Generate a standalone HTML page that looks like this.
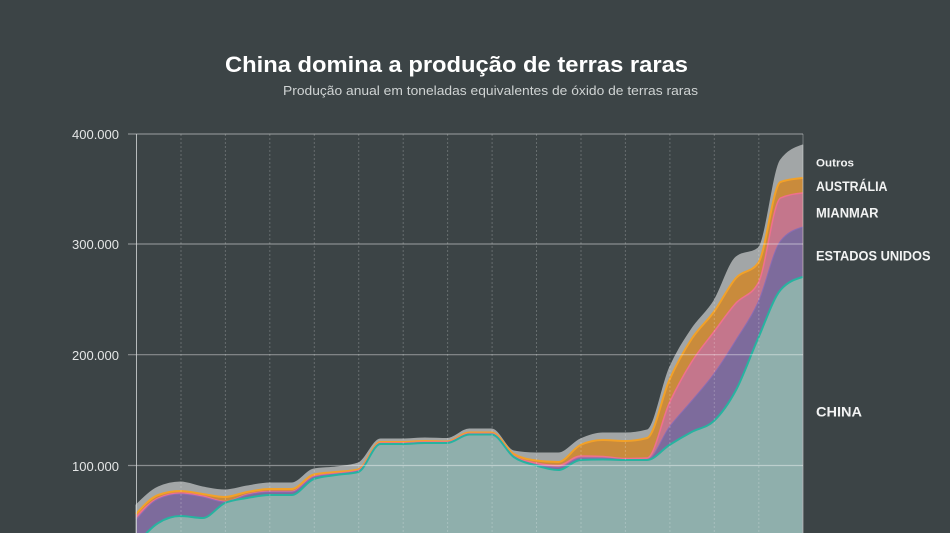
<!DOCTYPE html>
<html>
<head>
<meta charset="utf-8">
<style>
  html,body{margin:0;padding:0;background:#3c4446;}
  svg{display:block;}
  text{font-family:"Liberation Sans",sans-serif;}
</style>
</head>
<body>
<svg width="950" height="533" viewBox="0 0 950 533" xmlns="http://www.w3.org/2000/svg">
  <rect x="0" y="0" width="950" height="533" fill="#3c4446"/>

  <!-- Title -->
  <text x="225" y="72" font-size="22" font-weight="bold" fill="#ffffff" textLength="463" lengthAdjust="spacingAndGlyphs">China domina a produção de terras raras</text>
  <text x="283" y="95" font-size="13" fill="#cfd3d3" textLength="415" lengthAdjust="spacingAndGlyphs">Produção anual em toneladas equivalentes de óxido de terras raras</text>

  <!-- Y axis labels -->
  <g font-size="13" fill="#e4e6e6" text-anchor="end">
    <text x="119" y="139">400.000</text>
    <text x="119" y="249">300.000</text>
    <text x="119" y="360">200.000</text>
    <text x="119" y="471">100.000</text>
  </g>

  <!-- Areas (drawn top to bottom, overlapping) -->
  <path id="aG" fill="#a2a6a7" stroke="#a2a6a7" stroke-width="1" stroke-linejoin="round" d="M136.0,505 L158.2,487 L180.4,482 L202.7,487 L224.9,490 L247.1,486 L269.3,483 L291.6,483 L313.8,469 L336.0,467 L358.2,463 L380.5,439 L402.7,439 L424.9,438 L447.1,438.5 L469.3,429 L491.6,429 L513.8,451 L536.0,453 L558.2,453 L580.5,439 L602.7,433 L624.9,433 L647.1,430 L669.4,368 L691.6,329 L713.8,301 L736.0,257 L758.3,248 L780.5,160 L802.7,145 L802.7,533 L136,533 Z"/>
  <path id="aA" fill="#c98b3c" d="M136.0,514 L158.2,495 L180.4,491 L202.7,494 L224.9,497 L247.1,492 L269.3,489 L291.6,489 L313.8,474.5 L336.0,472 L358.2,469.5 L380.5,442 L402.7,442 L424.9,441 L447.1,441.5 L469.3,432.5 L491.6,432.5 L513.8,454 L536.0,460.5 L558.2,462 L580.5,445 L602.7,440 L624.9,441 L647.1,438 L669.4,380 L691.6,339 L713.8,312 L736.0,278 L758.3,263 L780.5,182 L802.7,178 L802.7,533 L136,533 Z"/>
  <path id="aM" fill="#c4768c" d="M136.0,517 L158.2,498 L180.4,493 L202.7,496 L224.9,501.5 L247.1,494.5 L269.3,491.5 L291.6,491.5 L313.8,476.5 L336.0,473.5 L358.2,470.5 L380.5,443 L402.7,443 L424.9,442 L447.1,442 L469.3,433.5 L491.6,433.5 L513.8,456 L536.0,463 L558.2,465.5 L580.5,456 L602.7,456.5 L624.9,458.5 L647.1,458 L669.4,403 L691.6,362 L713.8,332 L736.0,303 L758.3,283 L780.5,198 L802.7,193 L802.7,533 L136,533 Z"/>
  <path id="aP" fill="#7d6b9c" d="M136.0,520 L158.2,499 L180.4,494 L202.7,497 L224.9,502 L247.1,495 L269.3,492 L291.6,492 L313.8,477 L336.0,474 L358.2,471 L380.5,443.5 L402.7,443.5 L424.9,442.5 L447.1,442.5 L469.3,434 L491.6,434 L513.8,456.5 L536.0,464.5 L558.2,467.5 L580.5,458 L602.7,458 L624.9,459.5 L647.1,459.5 L669.4,427 L691.6,401 L713.8,374 L736.0,340 L758.3,302 L780.5,241 L802.7,227 L802.7,533 L136,533 Z"/>
  <path id="aC" fill="#8fafac" d="M136.0,545 L158.2,523 L180.4,516 L202.7,518 L224.9,503 L247.1,498 L269.3,495 L291.6,495 L313.8,479 L336.0,475 L358.2,472 L380.5,444 L402.7,444 L424.9,443 L447.1,443 L469.3,434.5 L491.6,434.5 L513.8,457 L536.0,465.5 L558.2,470 L580.5,460 L602.7,459.5 L624.9,460 L647.1,460 L669.4,445 L691.6,432 L713.8,421 L736.0,390 L758.3,338 L780.5,290 L802.7,277 L802.7,533 L136,533 Z"/>

  <!-- Lines -->
  <path id="lA" fill="none" stroke="#f2a128" stroke-width="2" stroke-linejoin="round" d="M136.0,514 L158.2,495 L180.4,491 L202.7,494 L224.9,497 L247.1,492 L269.3,489 L291.6,489 L313.8,474.5 L336.0,472 L358.2,469.5 L380.5,442 L402.7,442 L424.9,441 L447.1,441.5 L469.3,432.5 L491.6,432.5 L513.8,454 L536.0,460.5 L558.2,462 L580.5,445 L602.7,440 L624.9,441 L647.1,438 L669.4,380 L691.6,339 L713.8,312 L736.0,278 L758.3,263 L780.5,182 L802.7,178"/>
  <path id="lM" fill="none" stroke="#f0708e" stroke-width="1.5" stroke-linejoin="round" d="M136.0,517 L158.2,498 L180.4,493 L202.7,496 L224.9,501.5 L247.1,494.5 L269.3,491.5 L291.6,491.5 L313.8,476.5 L336.0,473.5 L358.2,470.5 L380.5,443 L402.7,443 L424.9,442 L447.1,442 L469.3,433.5 L491.6,433.5 L513.8,456 L536.0,463 L558.2,465.5 L580.5,456 L602.7,456.5 L624.9,458.5 L647.1,458 L669.4,403 L691.6,362 L713.8,332 L736.0,303 L758.3,283 L780.5,198 L802.7,193"/>
  <path id="lP" fill="none" stroke="#8a6cb4" stroke-width="1" stroke-linejoin="round" d="M136.0,520 L158.2,499 L180.4,494 L202.7,497 L224.9,502 L247.1,495 L269.3,492 L291.6,492 L313.8,477 L336.0,474 L358.2,471 L380.5,443.5 L402.7,443.5 L424.9,442.5 L447.1,442.5 L469.3,434 L491.6,434 L513.8,456.5 L536.0,464.5 L558.2,467.5 L580.5,458 L602.7,458 L624.9,459.5 L647.1,459.5 L669.4,427 L691.6,401 L713.8,374 L736.0,340 L758.3,302 L780.5,241 L802.7,227"/>
  <path id="lC" fill="none" stroke="#27b3a0" stroke-width="2" stroke-linejoin="round" d="M136.0,545 L158.2,523 L180.4,516 L202.7,518 L224.9,503 L247.1,498 L269.3,495 L291.6,495 L313.8,479 L336.0,475 L358.2,472 L380.5,444 L402.7,444 L424.9,443 L447.1,443 L469.3,434.5 L491.6,434.5 L513.8,457 L536.0,465.5 L558.2,470 L580.5,460 L602.7,459.5 L624.9,460 L647.1,460 L669.4,445 L691.6,432 L713.8,421 L736.0,390 L758.3,338 L780.5,290 L802.7,277"/>

  <!-- Vertical dotted gridlines -->
  <g stroke="#ffffff" stroke-opacity="0.22" stroke-width="1" stroke-dasharray="2,2">
    <line x1="181" y1="134" x2="181" y2="533"/>
    <line x1="225.4" y1="134" x2="225.4" y2="533"/>
    <line x1="269.8" y1="134" x2="269.8" y2="533"/>
    <line x1="314.3" y1="134" x2="314.3" y2="533"/>
    <line x1="358.7" y1="134" x2="358.7" y2="533"/>
    <line x1="403.2" y1="134" x2="403.2" y2="533"/>
    <line x1="447.6" y1="134" x2="447.6" y2="533"/>
    <line x1="492.1" y1="134" x2="492.1" y2="533"/>
    <line x1="536.5" y1="134" x2="536.5" y2="533"/>
    <line x1="581" y1="134" x2="581" y2="533"/>
    <line x1="625.4" y1="134" x2="625.4" y2="533"/>
    <line x1="669.9" y1="134" x2="669.9" y2="533"/>
    <line x1="714.3" y1="134" x2="714.3" y2="533"/>
    <line x1="758.8" y1="134" x2="758.8" y2="533"/>
  </g>
  <line x1="803" y1="134" x2="803" y2="533" stroke="#ffffff" stroke-opacity="0.3" stroke-width="1"/>

  <!-- Horizontal gridlines -->
  <g stroke="#ffffff" stroke-opacity="0.4" stroke-width="1.2">
    <line x1="128" y1="134" x2="803" y2="134"/>
    <line x1="128" y1="244" x2="803" y2="244"/>
    <line x1="128" y1="354.7" x2="803" y2="354.7"/>
    <line x1="128" y1="465.5" x2="803" y2="465.5"/>
  </g>
  <!-- Y axis -->
  <line x1="136.5" y1="134" x2="136.5" y2="533" stroke="#d6d9d9" stroke-opacity="0.8" stroke-width="1"/>

  <!-- Right labels -->
  <g font-weight="bold" fill="#f2f3f3">
    <text x="816" y="166.7" font-size="11" textLength="38" lengthAdjust="spacingAndGlyphs">Outros</text>
    <text x="816" y="191" font-size="13.5" textLength="71.5" lengthAdjust="spacingAndGlyphs">AUSTRÁLIA</text>
    <text x="816" y="217.3" font-size="13.5" textLength="62.5" lengthAdjust="spacingAndGlyphs">MIANMAR</text>
    <text x="816" y="260.7" font-size="13.5" textLength="114.5" lengthAdjust="spacingAndGlyphs">ESTADOS UNIDOS</text>
    <text x="816" y="416.7" font-size="13.5" textLength="46" lengthAdjust="spacingAndGlyphs">CHINA</text>
  </g>
</svg>
<script>
(function(){
  try {
    var G=[505,487,482,487,490,486,483,483,469,467,463,439,439,438,438.5,429,429,451,453,453,439,433,433,430,368,329,301,257,248,160,145];
    var A=[514,495,491,494,497,492,489,489,474.5,472,469.5,442,442,441,441.5,432.5,432.5,454,460.5,462,445,440,441,438,380,339,312,278,263,182,178];
    var M=[517,498,493,496,501.5,494.5,491.5,491.5,476.5,473.5,470.5,443,443,442,442,433.5,433.5,456,463,465.5,456,456.5,458.5,458,403,362,332,303,283,198,193];
    var P=[520,499,494,497,502,495,492,492,477,474,471,443.5,443.5,442.5,442.5,434,434,456.5,464.5,467.5,458,458,459.5,459.5,427,401,374,340,302,241,227];
    var C=[545,523,516,518,503,498,495,495,479,475,472,444,444,443,443,434.5,434.5,457,465.5,470,460,459.5,460,460,445,432,421,390,338,290,277];
    var xs=[]; for(var i=0;i<31;i++){ xs.push(136+i*22.2233); }
    function sign(v){return v<0?-1:1;}
    function curve(ys){
      var n=ys.length, t=new Array(n), i;
      for(i=1;i<n-1;i++){
        var h0=xs[i]-xs[i-1], h1=xs[i+1]-xs[i];
        var s0=(ys[i]-ys[i-1])/h0, s1=(ys[i+1]-ys[i])/h1;
        var p=(s0*h1+s1*h0)/(h0+h1);
        t[i]=(sign(s0)+sign(s1))*Math.min(Math.abs(s0),Math.abs(s1),0.5*Math.abs(p))||0;
      }
      var hA=xs[1]-xs[0]; t[0]=(3*(ys[1]-ys[0])/hA - t[1])/2;
      var hB=xs[n-1]-xs[n-2]; t[n-1]=(3*(ys[n-1]-ys[n-2])/hB - t[n-2])/2;
      var d="M"+xs[0].toFixed(2)+","+ys[0].toFixed(2);
      for(i=0;i<n-1;i++){
        var dx=(xs[i+1]-xs[i])/3;
        d+=" C"+(xs[i]+dx).toFixed(2)+","+(ys[i]+dx*t[i]).toFixed(2)+" "+(xs[i+1]-dx).toFixed(2)+","+(ys[i+1]-dx*t[i+1]).toFixed(2)+" "+xs[i+1].toFixed(2)+","+ys[i+1].toFixed(2);
      }
      return d;
    }
    var sets=[["G",G],["A",A],["M",M],["P",P],["C",C]];
    for(var k=0;k<sets.length;k++){
      var c=curve(sets[k][1]);
      var a=document.getElementById("a"+sets[k][0]);
      if(a){ a.setAttribute("d", c+" L802.7,533 L136,533 Z"); }
      var l=document.getElementById("l"+sets[k][0]);
      if(l){ l.setAttribute("d", c); }
    }
  } catch(e) {}
})();
</script>
</body>
</html>
